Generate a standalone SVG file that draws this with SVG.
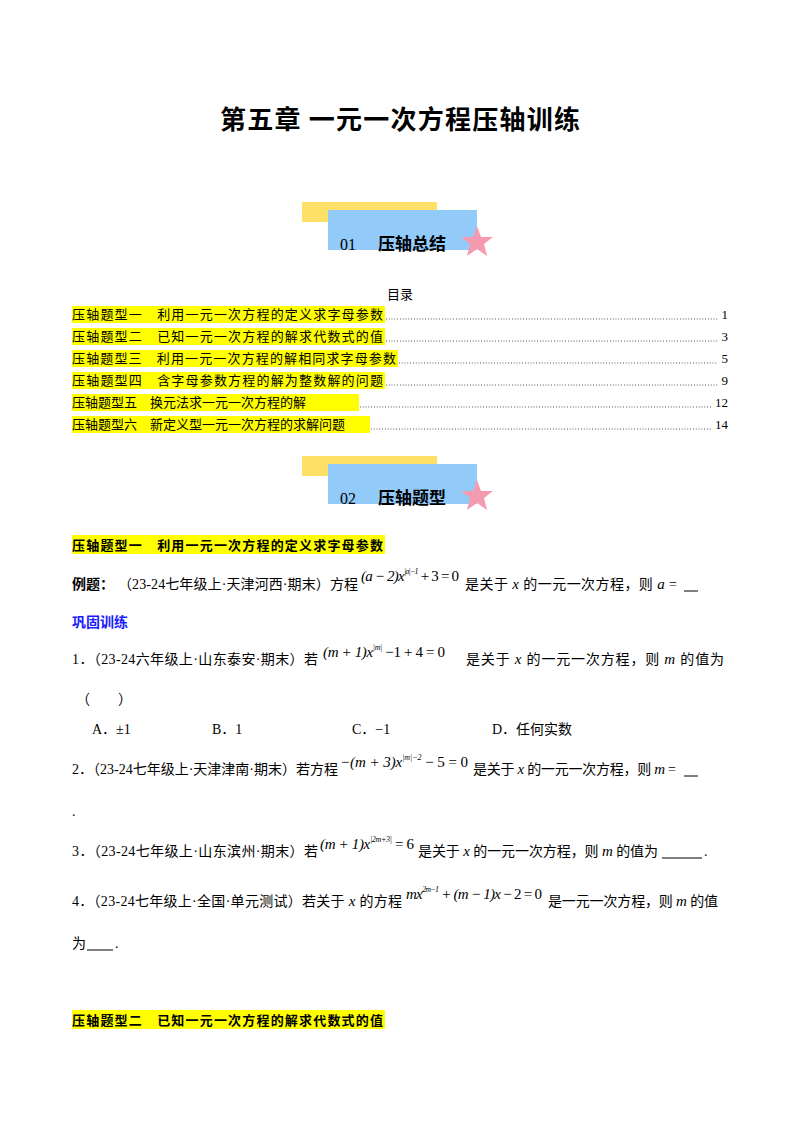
<svg xmlns="http://www.w3.org/2000/svg" width="800" height="1132" viewBox="0 0 800 1132">
<style>
text{font-family:"Liberation Serif","Noto Sans CJK SC",serif;font-size:14px;fill:#000}
.cj{font-family:"Noto Sans CJK SC",sans-serif}
.b{font-weight:bold}
.m{font-family:"Liberation Serif",serif;font-style:italic;font-size:15px}
.s{font-size:8px}
.hl{fill:#ffff00}
.dots{stroke:#000;stroke-width:0.8;stroke-dasharray:0.8 2}
</style>
<rect width="800" height="1132" fill="#fff"/>
<text x="400" y="129" text-anchor="middle" class="cj b" style="font-size:26px" textLength="360">第五章  一元一次方程压轴训练</text>
<defs>
<g id="banner">
<rect x="302" y="202" width="135" height="20" fill="#ffe066"/>
<rect x="328" y="210" width="149" height="40" fill="#92cbfa"/>
<polygon points="477,226 481,237 493,237 484,244 487,256 477,249 467,256 470,244 461,237 473,237" fill="#f59bb0"/>
</g>
</defs>
<g id="banner1"><use href="#banner"/>
<text x="340" y="250" style="font-size:16px">01</text>
<text x="378" y="250" class="cj b" style="font-size:17px">压轴总结</text></g>
<text x="400" y="299" text-anchor="middle" class="cj" style="font-size:13px">目录</text>
<g id="toc" style="font-size:13px">
<rect x="72" y="306" width="313" height="17" class="hl"/>
<rect x="72" y="328" width="313" height="17" class="hl"/>
<rect x="72" y="350" width="326" height="17" class="hl"/>
<rect x="72" y="372" width="313" height="17" class="hl"/>
<rect x="72" y="394" width="287" height="17" class="hl"/>
<rect x="72" y="416" width="298" height="17" class="hl"/>
<text x="72" y="319" class="cj" style="font-size:13px" textLength="311">压轴题型一　利用一元一次方程的定义求字母参数</text>
<text x="72" y="341" class="cj" style="font-size:13px" textLength="311">压轴题型二　已知一元一次方程的解求代数式的值</text>
<text x="72" y="363" class="cj" style="font-size:13px" textLength="324">压轴题型三　利用一元一次方程的解相同求字母参数</text>
<text x="72" y="385" class="cj" style="font-size:13px" textLength="311">压轴题型四　含字母参数方程的解为整数解的问题</text>
<text x="72" y="407" class="cj" style="font-size:13px">压轴题型五　换元法求一元一次方程的解</text>
<text x="72" y="429" class="cj" style="font-size:13px">压轴题型六　新定义型一元一次方程的求解问题</text>
<line x1="386" y1="319" x2="718" y2="319" class="dots"/>
<line x1="386" y1="341" x2="718" y2="341" class="dots"/>
<line x1="399" y1="363" x2="718" y2="363" class="dots"/>
<line x1="386" y1="385" x2="718" y2="385" class="dots"/>
<line x1="360" y1="407" x2="711" y2="407" class="dots"/>
<line x1="371" y1="429" x2="711" y2="429" class="dots"/>
<text x="728" y="319" text-anchor="end" style="font-size:13px">1</text>
<text x="728" y="341" text-anchor="end" style="font-size:13px">3</text>
<text x="728" y="363" text-anchor="end" style="font-size:13px">5</text>
<text x="728" y="385" text-anchor="end" style="font-size:13px">9</text>
<text x="728" y="407" text-anchor="end" style="font-size:13px">12</text>
<text x="728" y="429" text-anchor="end" style="font-size:13px">14</text>
</g>
<g id="banner2"><use href="#banner" y="254"/>
<text x="340" y="504" style="font-size:16px">02</text>
<text x="378" y="504" class="cj b" style="font-size:17px">压轴题型</text></g>
<g id="body">
<rect x="72" y="535" width="313" height="19" class="hl"/>
<text x="72" y="550" class="cj b" style="font-size:13px" textLength="311">压轴题型一　利用一元一次方程的定义求字母参数</text>
<text x="72" y="589" class="cj b">例题：</text>
<text x="118" y="589" textLength="240">（23-24七年级上·天津河西·期末）方程</text>
<text x="361" y="581" class="m" textLength="98">(a − 2)x<tspan class="s" dy="-7">|a|−1</tspan><tspan dy="7" font-style="normal"> + 3 = 0</tspan></text>
<text x="465" y="589" textLength="212">是关于 <tspan class="m">x</tspan> 的一元一次方程，则 <tspan class="m">a</tspan> =</text>
<line x1="684" y1="591" x2="698" y2="591" stroke="#000"/>
<text x="72" y="627" class="cj b" style="fill:#1a1aff">巩固训练</text>
<text x="72" y="664" textLength="246">1．（23-24六年级上·山东泰安·期末）若</text>
<text x="323" y="657" class="m" textLength="122">(m + 1)x<tspan class="s" dy="-7">|m|</tspan><tspan dy="7" font-style="normal"> −1 + 4 = 0</tspan></text>
<text x="466" y="664" textLength="258">是关于 <tspan class="m">x</tspan> 的一元一次方程，则 <tspan class="m">m</tspan> 的值为</text>
<text x="76" y="704">（　　）</text>
<text x="92" y="734">A．±1</text>
<text x="212" y="734">B．1</text>
<text x="352" y="734">C．−1</text>
<text x="492" y="734">D．任何实数</text>
<text x="72" y="774" textLength="266">2．（23-24七年级上·天津津南·期末）若方程</text>
<text x="340" y="767" class="m" textLength="128">−(m + 3)x<tspan class="s" dy="-7">|m|−2</tspan><tspan dy="7" font-style="normal"> − 5 = 0</tspan></text>
<text x="473" y="774" textLength="203">是关于 <tspan class="m">x</tspan> 的一元一次方程，则 <tspan class="m">m</tspan> =</text>
<line x1="684" y1="776" x2="698" y2="776" stroke="#000"/>
<text x="72" y="816">.</text>
<text x="72" y="856" textLength="246">3．（23-24七年级上·山东滨州·期末）若</text>
<text x="320" y="849" class="m" textLength="94">(m + 1)x<tspan class="s" dy="-7">|2m+3|</tspan><tspan dy="7" font-style="normal"> = 6</tspan></text>
<text x="418" y="856" textLength="240">是关于 <tspan class="m">x</tspan> 的一元一次方程，则 <tspan class="m">m</tspan> 的值为</text>
<line x1="662" y1="858" x2="702" y2="858" stroke="#000"/>
<text x="704" y="856">.</text>
<text x="72" y="906" textLength="330">4．（23-24七年级上·全国·单元测试）若关于 <tspan class="m">x</tspan> 的方程</text>
<text x="406" y="899" class="m" textLength="136">mx<tspan class="s" dy="-7">2m−1</tspan><tspan dy="7"> + (m − 1)x</tspan><tspan font-style="normal"> − 2 = 0</tspan></text>
<text x="548" y="906" textLength="170">是一元一次方程，则 <tspan class="m">m</tspan> 的值</text>
<text x="72" y="948">为</text>
<line x1="87" y1="950" x2="113" y2="950" stroke="#000"/>
<text x="115" y="948">.</text>
<rect x="72" y="1010" width="313" height="19" class="hl"/>
<text x="72" y="1025" class="cj b" style="font-size:13px" textLength="311">压轴题型二　已知一元一次方程的解求代数式的值</text>
</g>
</svg>
